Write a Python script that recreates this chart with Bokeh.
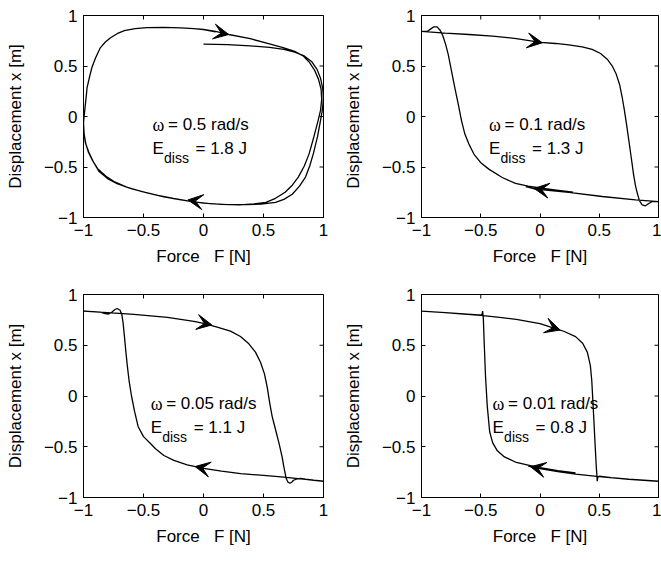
import math
from bokeh.plotting import figure
from bokeh.layouts import column, row
from bokeh.models import (Label, Arrow, VeeHead, ColumnDataSource, FixedTicker, Range1d)
from bokeh.embed import file_html
from bokeh.resources import INLINE

FONT = "Liberation Sans"

# ---------------- data ----------------
tick_values = [-1, -0.5, 0, 0.5, 1]
tick_labels = ["\u22121", "\u22120.5", "0", "0.5", "1"]

omega_labels = ["0.5", "0.1", "0.05", "0.01"]
ediss_labels = ["1.8", "1.3", "1.1", "0.8"]
text_x = [-0.425, -0.43, -0.44, -0.40]
text_y1 = [-0.083, -0.083, -0.077, -0.077]
text_y2 = [-0.313, -0.313, -0.307, -0.307]

# omega = 0.5 rad/s
force_1 = [0.00, 0.20, 0.39, 0.55, 0.67, 0.76, 0.84, 0.90, 0.945, 0.975, 0.993, 1.000,
           0.990, 0.975, 0.950, 0.915, 0.885, 0.850, 0.800, 0.740, 0.670, 0.600, 0.480,
           0.350, 0.200, 0.050, -0.080, -0.200, -0.330, -0.470, -0.610, -0.720, -0.800,
           -0.870, -0.915, -0.950, -0.980, -0.995, -1.000, -0.990, -0.980, -0.970, -0.950,
           -0.930, -0.900, -0.860, -0.820, -0.775, -0.720, -0.660, -0.570, -0.470, -0.330,
           -0.190, -0.080, 0.000, 0.100, 0.210, 0.390, 0.550, 0.670, 0.760, 0.830, 0.880,
           0.925, 0.958, 0.980, 0.985, 0.975, 0.955, 0.920, 0.880, 0.840, 0.790, 0.740,
           0.680, 0.600, 0.520, 0.420, 0.300, 0.150, 0.000, -0.120, -0.250, -0.380,
           -0.520, -0.640, -0.740, -0.815, -0.880, -0.925, -0.960, -0.985, -0.998, -1.000,
           -0.990, -0.980, -0.970, -0.950, -0.930, -0.900, -0.860, -0.820, -0.775, -0.720,
           -0.660, -0.570, -0.470, -0.330, -0.190, -0.080, 0.000, 0.100]
disp_1 = [0.717, 0.712, 0.700, 0.684, 0.664, 0.638, 0.600, 0.545, 0.470, 0.380, 0.280, 0.180,
          0.060, -0.040, -0.200, -0.370, -0.490, -0.600, -0.690, -0.770, -0.820, -0.850, -0.868,
          -0.872, -0.872, -0.862, -0.845, -0.822, -0.795, -0.757, -0.712, -0.665, -0.615,
          -0.545, -0.455, -0.370, -0.275, -0.170, -0.060, 0.056, 0.170, 0.287, 0.390,
          0.485, 0.580, 0.680, 0.735, 0.780, 0.820, 0.850, 0.870, 0.880, 0.882,
          0.878, 0.870, 0.862, 0.842, 0.812, 0.770, 0.720, 0.680, 0.645, 0.600, 0.540,
          0.460, 0.370, 0.270, 0.170, 0.060, -0.040, -0.200, -0.370, -0.490, -0.600, -0.680,
          -0.750, -0.810, -0.850, -0.866, -0.874, -0.870, -0.857, -0.838, -0.812, -0.782,
          -0.742, -0.698, -0.648, -0.590, -0.520, -0.435, -0.350, -0.255, -0.150, -0.060,
          0.056, 0.170, 0.287, 0.390, 0.485, 0.580, 0.680, 0.735, 0.780, 0.820,
          0.850, 0.870, 0.880, 0.882, 0.878, 0.870, 0.860, 0.838]

# omega = 0.1 rad/s
force_2 = [0.28, 0.14, 0.00, -0.10,
           -0.207, -0.319, -0.432, -0.502, -0.558, -0.600, -0.634, -0.662, -0.690, -0.719,
           -0.747, -0.775, -0.797, -0.820, -0.840, -0.868, -0.896, -0.924, -0.952, -1.000,
           -0.80, -0.60, -0.40, -0.20, 0.004, 0.131, 0.243, 0.356, 0.440, 0.511, 0.567,
           0.609, 0.643, 0.671, 0.694, 0.713, 0.730, 0.750, 0.770, 0.789, 0.806, 0.823,
           0.840, 0.862, 0.890, 0.918, 0.947, 1.000,
           0.806, 0.525, 0.243, -0.038, -0.12]
disp_2 = [-0.748, -0.728, -0.708, -0.690,
          -0.663, -0.604, -0.521, -0.455, -0.372, -0.273, -0.174, -0.043, 0.123, 0.287,
          0.452, 0.618, 0.717, 0.799, 0.849, 0.888, 0.888, 0.865, 0.842, 0.842,
          0.826, 0.812, 0.795, 0.772, 0.733, 0.723, 0.710, 0.690, 0.664, 0.624, 0.568,
          0.502, 0.420, 0.320, 0.188, 0.056, -0.075, -0.240, -0.406, -0.570, -0.686, -0.768,
          -0.835, -0.874, -0.884, -0.861, -0.842, -0.842,
          -0.825, -0.792, -0.752, -0.719, -0.695]

# omega = 0.05 rad/s
force_3 = [1.00, 0.85, 0.67, 0.50, 0.31, 0.15, 0.00, -0.136, -0.247, -0.33, -0.40, -0.44,
           -0.50, -0.545, -0.575, -0.600, -0.620, -0.635, -0.648, -0.660, -0.670, -0.680,
           -0.695, -0.720, -0.740, -0.765, -0.790, -0.820, -0.860, -0.920, -1.000,
           -0.80, -0.58, -0.30, -0.08, 0.00, 0.114, 0.225, 0.308, 0.378, 0.433, 0.475, 0.508,
           0.531, 0.553, 0.572, 0.600, 0.630, 0.655, 0.670, 0.690, 0.705, 0.720, 0.735,
           0.750, 0.780, 0.810, 0.850, 0.920, 1.000]
disp_3 = [-0.840, -0.822, -0.800, -0.783, -0.765, -0.740, -0.712, -0.678, -0.635, -0.586,
          -0.520, -0.470, -0.400, -0.300, -0.150, 0.000, 0.150, 0.300, 0.450, 0.600, 0.720,
          0.800, 0.845, 0.862, 0.850, 0.825, 0.808, 0.812, 0.826, 0.832, 0.836,
          0.822, 0.805, 0.775, 0.735, 0.715, 0.678, 0.639, 0.586, 0.514, 0.432, 0.333, 0.218,
          0.087, -0.077, -0.200, -0.330, -0.470, -0.600, -0.700, -0.816, -0.850, -0.860,
          -0.850, -0.830, -0.816, -0.812, -0.820, -0.830, -0.840]

# omega = 0.01 rad/s
force_4 = [0.30, 0.15, 0.00, -0.10,
           -0.20, -0.30, -0.36, -0.40, -0.425, -0.445, -0.460, -0.470, -0.478, -0.484,
           -0.490, -0.520, -0.643, -0.80, -1.00,
           -0.80, -0.643, -0.50, -0.36, -0.20, 0.00, 0.143, 0.20, 0.30, 0.36, 0.40, 0.425,
           0.437, 0.452, 0.466, 0.475, 0.480, 0.483, 0.488, 0.50, 0.60, 0.75, 0.88, 1.00,
           0.75, 0.50, 0.30, 0.15, 0.00, -0.10]
disp_4 = [-0.758, -0.735, -0.705, -0.680,
          -0.655, -0.600, -0.540, -0.460, -0.350, -0.100, 0.200, 0.500, 0.760, 0.836,
          0.800, 0.800, 0.808, 0.822, 0.836,
          0.822, 0.808, 0.795, 0.778, 0.755, 0.712, 0.660, 0.638, 0.585, 0.520, 0.430, 0.300,
          0.150, -0.180, -0.500, -0.700, -0.780, -0.840, -0.800, -0.790, -0.805, -0.820,
          -0.832, -0.840,
          -0.820, -0.795, -0.770, -0.745, -0.715, -0.690]

# arrowheads: tail (x0, y0) -> tip (x1, y1), along each curve
arrow_x0 = [[0.05, 0.05], [-0.15, 0.12], [-0.10, 0.10], [0.00, 0.10]]
arrow_y0 = [[0.850, -0.857], [0.762, -0.742], [0.740, -0.735], [0.712, -0.742]]
arrow_x1 = [[0.21, -0.13], [0.02, -0.05], [0.07, -0.07], [0.17, -0.08]]
arrow_y1 = [[0.812, -0.826], [0.730, -0.712], [0.700, -0.695], [0.650, -0.697]]

forces = [force_1, force_2, force_3, force_4]
disps = [disp_1, disp_2, disp_3, disp_4]

# ---------------- layout ----------------
borders = [(83, 7, 15, 63), (91, 3, 15, 63), (83, 7, 14, 66), (91, 3, 14, 66)]
frames = [(240, 202), (237, 202), (240, 203), (237, 203)]


def style_axis(ax):
    ax.ticker = FixedTicker(ticks=tick_values)
    ax.major_label_overrides = {v: l for v, l in zip(tick_values, tick_labels)}
    ax.major_tick_in = 4
    ax.major_tick_out = 0
    ax.minor_tick_line_color = None
    ax.axis_line_color = "black"
    ax.major_tick_line_color = "black"
    ax.axis_label_text_font = FONT
    ax.axis_label_text_font_size = "17px"
    ax.axis_label_text_font_style = "normal"
    ax.axis_label_text_color = "black"
    ax.major_label_text_font = FONT
    ax.major_label_text_color = "black"
    ax.major_label_text_font_size = "17px"
    ax.major_label_standoff = 6


panels = []
for i in range(4):
    bl, br, bt, bb = borders[i]
    fw, fh = frames[i]
    xr = Range1d(tick_values[0], tick_values[-1])
    yr = Range1d(tick_values[0], tick_values[-1])
    p = figure(frame_width=fw, frame_height=fh, x_range=xr, y_range=yr,
               output_backend="svg", toolbar_location=None,
               min_border_left=bl, min_border_right=br, min_border_top=bt, min_border_bottom=bb,
               x_axis_label="Force\u00a0\u00a0 F [N]", y_axis_label="Displacement x [m]")
    p.grid.visible = False
    p.outline_line_color = "black"
    p.outline_line_width = 1
    p.background_fill_color = "white"
    p.border_fill_color = "white"
    style_axis(p.xaxis[0])
    style_axis(p.yaxis[0])
    p.xaxis[0].axis_label_standoff = 8
    p.yaxis[0].axis_label_standoff = 16

    # inward tick marks on the top and right edges of the box (at the tick values)
    p.scatter(x=tick_values, y=[yr.end] * len(tick_values), marker="dash", size=8,
              angle=math.pi / 2, line_color="black", line_width=1)
    p.scatter(x=[xr.end] * len(tick_values), y=tick_values, marker="dash", size=8,
              line_color="black", line_width=1)

    p.line(forces[i], disps[i], line_color="black", line_width=1.3)

    src = ColumnDataSource(dict(x0=arrow_x0[i], y0=arrow_y0[i], x1=arrow_x1[i], y1=arrow_y1[i]))
    p.add_layout(Arrow(source=src, x_start="x0", y_start="y0", x_end="x1", y_end="y1",
                       line_alpha=0, line_width=1,
                       end=VeeHead(size=15, fill_color="black", line_color="black", line_width=1)))

    tx = text_x[i]
    p.add_layout(Label(x=tx, y=text_y1[i], text="\u03c9", text_font="Liberation Serif",
                       text_font_size="18px", text_color="black", text_baseline="alphabetic"))
    p.add_layout(Label(x=tx, y=text_y1[i], x_offset=15.5, text="= %s rad/s" % omega_labels[i],
                       text_font=FONT, text_font_size="17px", text_color="black",
                       text_baseline="alphabetic"))
    p.add_layout(Label(x=tx, y=text_y2[i], text="E", text_font=FONT, text_font_size="17px",
                       text_color="black", text_baseline="alphabetic"))
    p.add_layout(Label(x=tx, y=text_y2[i], x_offset=11.5, y_offset=-10, text="diss",
                       text_font=FONT, text_font_size="14px", text_color="black",
                       text_baseline="alphabetic"))
    p.add_layout(Label(x=tx, y=text_y2[i], x_offset=43, text="= %s J" % ediss_labels[i],
                       text_font=FONT, text_font_size="17px", text_color="black",
                       text_baseline="alphabetic"))
    panels.append(p)

layout = column(row(panels[0], panels[1]), row(panels[2], panels[3]))

open("out.html", "w").write(file_html(layout, INLINE))
